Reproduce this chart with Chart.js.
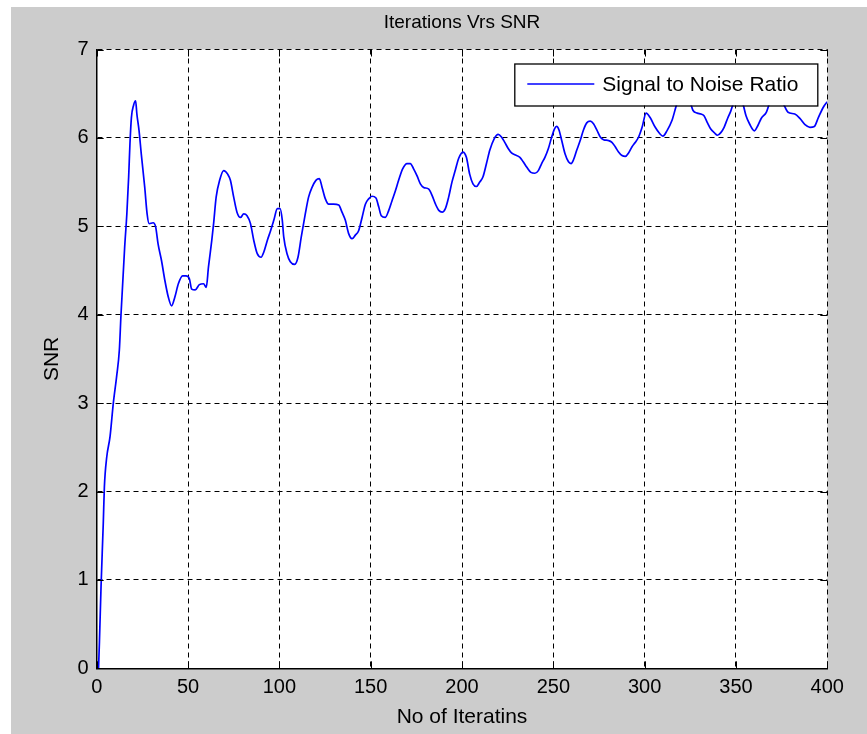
<!DOCTYPE html>
<html><head><meta charset="utf-8">
<script src="https://cdn.jsdelivr.net/npm/chart.js@4.4.0/dist/chart.umd.min.js"></script>
<style>html,body{margin:0;padding:0;background:#fff;overflow:hidden}canvas{display:block}</style>
</head><body>
<canvas id="c" width="867" height="734"></canvas>
<script>
const chartTitle = 'Iterations Vrs SNR';
const xAxisTitle = 'No of Iteratins';
const yAxisTitle = 'SNR';
const seriesLabel = 'Signal to Noise Ratio';
const xTicks = [0, 50, 100, 150, 200, 250, 300, 350, 400];
const yTicks = [0, 1, 2, 3, 4, 5, 6, 7];

const iterations = [1,1.5,2.4,3.6,4.2,5.5,7.3,9.1,10.9,12.4,13.3,15.3,16.5,17.5,18.2,19,20.2,21.3,22,23.2,24.4,26.3,27.6,28.7,30.9,32.3,33.6,35.5,37.3,39.2,41,42.8,44.7,47,48.9,50.7,52,53.9,56.2,58.5,60,61.2,63,64,65.4,67.3,69.5,71.7,73.2,75,76.8,78.7,80.5,82.3,84.2,86,87.9,90,91.5,93.4,95.2,97,98.9,100.4,101.6,102.4,104.2,106,108.4,110.2,112,114.2,116,117.9,120,121.9,123.4,125.2,127,129.7,132.5,134.3,136.1,137.9,139.8,141.6,143.4,145.3,147.1,148.9,150.7,152.9,154.4,155.8,158,159.9,161.7,163.5,165.3,167.5,169.9,171.7,173.5,175.4,177.2,179,181.8,183.6,185.5,187.3,189.1,190.9,192.7,194.5,196.4,198.2,200.5,202.4,204.2,206,207.9,209.7,211.5,213.4,215.2,217.6,219.8,221.6,223.4,225.3,227.1,228.9,231.7,233.5,235.4,237.7,239.9,241.8,243.6,245.4,247.3,249.1,250.6,251.8,253.1,254.6,256.4,258.3,259.7,261,262.8,264.7,266.5,268.3,270.2,272,273.8,275.7,277.5,280.2,282.1,283.9,285.7,287.6,289.4,291.2,293.1,294.9,296.7,298.6,300.8,303,305.8,308.2,310,312.2,315,317.8,321,325.1,326.5,328.8,330.8,332.5,334.4,336.2,338.1,339.9,341.7,343.5,345.4,347.1,348.6,351,353.7,355.5,357.4,360.1,362,363.8,366.6,368.4,372,375.8,378.5,382.2,385,387.8,390.5,392.9,395.1,397.9,400];
const snr = [0,0.3,0.94,1.64,2.05,2.39,2.62,3.0,3.3,3.6,4.0,4.76,5.14,5.56,5.93,6.23,6.37,6.42,6.27,6.08,5.82,5.44,5.14,5.03,5.04,4.99,4.80,4.61,4.39,4.2,4.1,4.2,4.35,4.44,4.44,4.41,4.29,4.28,4.34,4.35,4.31,4.54,4.84,5.03,5.33,5.52,5.63,5.59,5.52,5.33,5.16,5.10,5.14,5.12,5.03,4.84,4.69,4.65,4.71,4.84,4.95,5.07,5.2,5.2,5.07,4.88,4.69,4.6,4.57,4.65,4.88,5.14,5.33,5.44,5.52,5.54,5.44,5.31,5.25,5.25,5.24,5.16,5.07,4.92,4.86,4.9,4.95,5.1,5.25,5.31,5.34,5.32,5.22,5.12,5.1,5.18,5.29,5.4,5.52,5.65,5.71,5.71,5.65,5.57,5.48,5.44,5.42,5.35,5.25,5.18,5.16,5.2,5.33,5.5,5.64,5.77,5.84,5.78,5.59,5.48,5.45,5.5,5.56,5.71,5.86,5.99,6.04,6.01,5.95,5.88,5.83,5.81,5.78,5.73,5.67,5.61,5.6,5.63,5.71,5.78,5.88,6.01,6.1,6.13,6.09,5.97,5.82,5.73,5.71,5.75,5.86,5.97,6.09,6.17,6.19,6.16,6.09,6.01,5.98,5.97,5.95,5.9,5.84,5.8,5.79,5.83,5.9,5.95,6.01,6.12,6.28,6.23,6.12,6.05,6.02,6.08,6.2,6.39,6.47,6.39,6.31,6.28,6.27,6.25,6.17,6.1,6.06,6.03,6.06,6.12,6.22,6.3,6.39,6.46,6.39,6.25,6.16,6.08,6.14,6.22,6.29,6.39,6.47,6.39,6.29,6.27,6.22,6.15,6.12,6.13,6.23,6.35,6.41];

const FONT = '"Liberation Sans", Arial, Helvetica, sans-serif';
const points = iterations.map((x, i) => ({x: x, y: snr[i]}));

const bgPlugin = {
  id: 'bg',
  beforeDraw(chart) {
    const {ctx, chartArea: a} = chart;
    ctx.save();
    ctx.fillStyle = '#ffffff';
    ctx.fillRect(0, 0, chart.width, chart.height);
    ctx.fillStyle = '#cccccc';
    ctx.fillRect(11, 7, chart.width - 11, chart.height - 7);
    ctx.fillStyle = '#ffffff';
    ctx.fillRect(a.left, a.top, a.right - a.left, a.bottom - a.top);
    ctx.restore();
  }
};

const overlayPlugin = {
  id: 'overlay',
  afterDraw(chart) {
    const {ctx, chartArea: a, scales} = chart;
    const xs = scales.x, ys = scales.y;
    const L = 7;
    ctx.save();
    ctx.strokeStyle = '#000';
    ctx.lineWidth = 1;
    ctx.setLineDash([]);
    ctx.beginPath();
    xTicks.forEach(v => {
      const px = Math.round(xs.getPixelForValue(v)) + 0.5;
      ctx.moveTo(px, a.bottom); ctx.lineTo(px, a.bottom - L);
      ctx.moveTo(px, a.top); ctx.lineTo(px, a.top + L);
    });
    yTicks.forEach(v => {
      const py = Math.round(ys.getPixelForValue(v)) + 0.5;
      ctx.moveTo(a.left, py); ctx.lineTo(a.left + L, py);
      ctx.moveTo(a.right, py); ctx.lineTo(a.right - L, py);
    });
    ctx.stroke();
    // legend box
    const bx = a.right - 10 - 303, by = a.top + 14, bw = 303, bh = 42;
    ctx.fillStyle = '#fff';
    ctx.fillRect(bx, by, bw, bh);
    ctx.lineWidth = 1.3;
    ctx.strokeRect(bx + 0.5, by + 0.5, bw, bh);
    ctx.strokeStyle = '#0000ff';
    ctx.lineWidth = 1.5;
    ctx.beginPath();
    ctx.moveTo(bx + 13, by + 20.5); ctx.lineTo(bx + 80, by + 20.5);
    ctx.stroke();
    ctx.fillStyle = '#000';
    ctx.font = '21px ' + FONT;
    ctx.textBaseline = 'middle';
    ctx.textAlign = 'left';
    ctx.fillText(seriesLabel, bx + 88, by + 21.5);
    ctx.restore();
  }
};

new Chart(document.getElementById('c'), {
  type: 'line',
  data: {
    datasets: [{
      label: seriesLabel,
      data: points,
      borderColor: '#0000ff',
      borderWidth: 1.7,
      pointRadius: 0,
      fill: false,
      cubicInterpolationMode: 'monotone'
    }]
  },
  options: {
    responsive: false,
    animation: false,
    events: [],
    layout: {padding: {left: 0, top: 0, right: 39.7, bottom: 0}},
    plugins: {
      legend: {display: false},
      tooltip: {enabled: false},
      title: {
        display: true,
        text: chartTitle,
        fullSize: false,
        color: '#000',
        font: {family: FONT, size: 19, weight: 'normal', lineHeight: 1.2},
        padding: {top: 11, bottom: 15.7}
      }
    },
    scales: {
      x: {
        type: 'linear',
        min: 0, max: 400,
        afterBuildTicks: s => { s.ticks = xTicks.map(v => ({value: v})); },
        afterFit: s => { s.height = 65.7; },
        ticks: {color: '#000', font: {family: FONT, size: 20, lineHeight: 1.2}, padding: 7.2, maxRotation: 0, autoSkip: false},
        grid: {color: '#000', lineWidth: 1, drawTicks: false},
        border: {display: true, color: '#000', width: 1.5, dash: [5, 4]},
        title: {display: true, text: xAxisTitle, color: '#000', font: {family: FONT, size: 21, lineHeight: 1.2}, padding: {top: 0, bottom: 3.9}}
      },
      y: {
        type: 'linear',
        min: 0, max: 7,
        afterBuildTicks: s => { s.ticks = yTicks.map(v => ({value: v})); },
        afterFit: s => { s.width = 96.7; },
        ticks: {color: '#000', font: {family: FONT, size: 20, lineHeight: 1.2}, padding: 8},
        grid: {color: '#000', lineWidth: 1, drawTicks: false},
        border: {display: true, color: '#000', width: 1.5, dash: [5, 4]},
        title: {display: true, text: yAxisTitle, color: '#000', font: {family: FONT, size: 21, lineHeight: 1.2}, padding: {top: 39.4, bottom: 0}}
      }
    }
  },
  plugins: [bgPlugin, overlayPlugin]
});
</script>
</body></html>
